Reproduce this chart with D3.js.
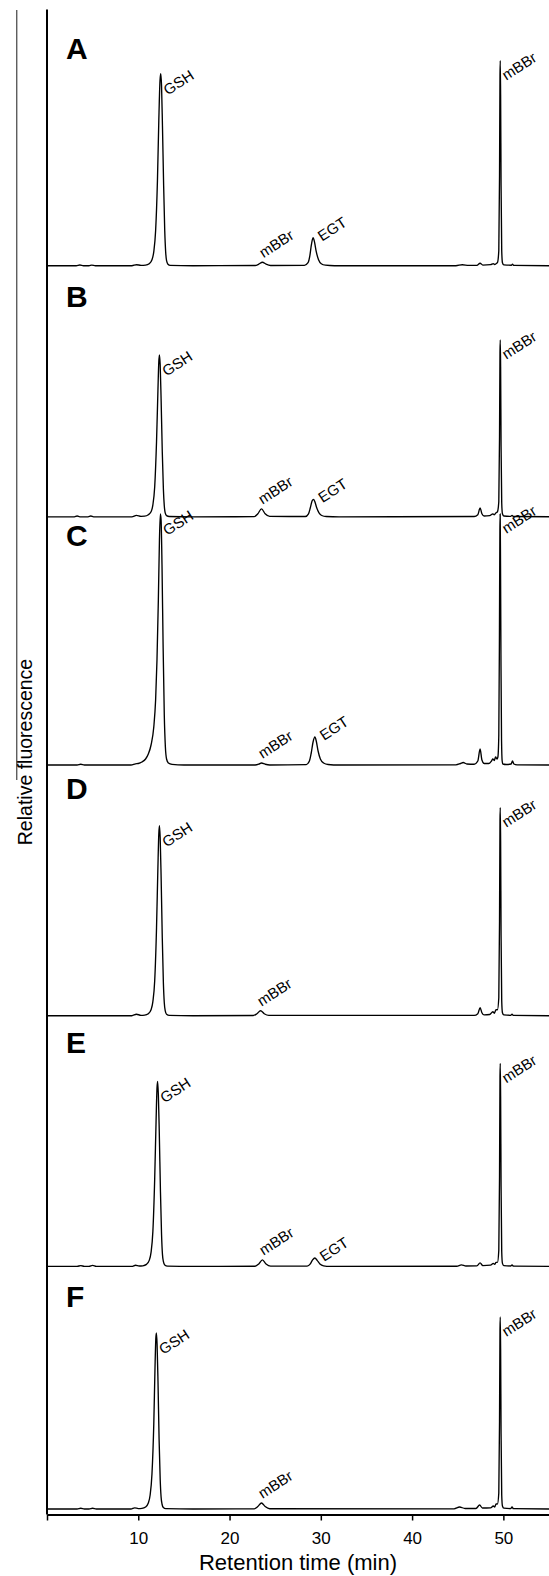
<!DOCTYPE html>
<html><head><meta charset="utf-8">
<script src="https://cdn.jsdelivr.net/npm/d3@7"></script>
<style>body{margin:0;background:#fff}svg{display:block}</style>
</head><body><svg id="c" width="549" height="1576"></svg>
<script>
// ---------------- data ----------------
const panelNames = ["A","B","C","D","E","F"];
const xTicks = [0,10,20,30,40,50];
const xTickLabels = ["","10","20","30","40","50"];
const xTitle = "Retention time (min)";
const yTitle = "Relative fluorescence";

// chromatogram traces: [retention time (min), relative fluorescence]
const traceA = [
[0,0],[3.2,0],[3.6,0.7],[4.0,0],[4.6,0],[4.9,0.6],[5.3,0],[9.3,0],[9.8,1.0],[10.3,0.4],
[10.8,0.6],[11.2,2],[11.5,6],[11.7,14],[11.9,35],[12.1,85],[12.25,145],[12.38,185],[12.46,192],[12.55,180],[12.65,140],[12.78,80],[12.9,35],[13.0,14],[13.1,5],[13.25,1.5],[13.5,0.3],
[16,0],[22.8,0.2],[23.2,1.5],[23.6,3.5],[24.0,1.5],[24.5,0.2],
[28.2,0.3],[28.6,3],[28.8,10],[28.95,20],[29.15,28],[29.3,24],[29.5,14],[29.75,6],[30.05,2],[30.5,0.5],[31.5,0],
[44.8,0],[45.5,1],[46.2,0.3],[47.1,0.4],[47.45,2.5],[47.75,0.6],[48.6,1],[48.9,2],[49.05,1.2],[49.2,2],[49.35,3],
[49.5,15],[49.58,90],[49.63,190],[49.66,205],[49.7,170],[49.75,80],[49.82,15],[49.9,3],[50.05,0.8],[50.9,0.5],[51.0,1.5],[51.15,0.3],[55,0]
];
const traceB = [
[0,0],[3.0,0],[3.3,0.8],[3.6,0],[4.5,0],[4.8,0.8],[5.1,0],[9.3,0],[9.8,1.5],[10.3,0.5],
[10.7,0.6],[11.1,2],[11.4,5],[11.6,12],[11.8,30],[12.0,75],[12.15,125],[12.25,155],[12.32,162],[12.4,152],[12.5,118],[12.63,65],[12.75,28],[12.85,11],[12.95,4],[13.1,1.2],[13.4,0.3],
[16,0],[22.7,0.2],[23.1,3],[23.5,8],[23.9,3],[24.4,0.4],
[28.3,0.3],[28.65,3],[28.85,9],[29.05,16],[29.2,17.5],[29.35,15],[29.55,9],[29.8,4],[30.1,1.3],[30.6,0.3],[32,0],
[46.8,0.3],[47.2,2],[47.45,9],[47.65,3],[47.9,0.8],[48.5,1.2],[48.85,3],[49.0,2],[49.2,4],[49.35,5],
[49.5,15],[49.58,80],[49.63,165],[49.66,177],[49.7,150],[49.75,70],[49.82,14],[49.9,3],[50.05,0.8],[50.8,0.4],[50.95,1.5],[51.1,0.3],[55,0]
];
const traceC = [
[0,0],[3.3,0],[3.7,0.8],[4.1,0],[9.2,0],[9.7,1.2],[10.0,1.5],[10.4,3],[10.8,6],[11.1,11],[11.4,20],[11.7,38],[11.9,65],[12.05,105],[12.2,165],[12.32,225],[12.42,251],[12.5,245],[12.6,200],[12.72,120],[12.85,50],[12.97,18],[13.1,6],[13.3,2],[13.7,0.6],[15,0],
[22.8,0],[23.2,0.8],[23.5,2],[23.9,0.8],[24.4,0],
[28.4,0.4],[28.75,4],[28.95,12],[29.15,23],[29.35,28],[29.5,24],[29.7,14],[29.95,6],[30.3,2],[30.8,0.5],[32,0],
[44.8,0.2],[45.3,1.5],[45.6,2.5],[46.0,1],[46.8,0.8],[47.2,4],[47.45,16],[47.65,5],[47.9,1.5],[48.4,1.5],[48.7,4],[48.85,6],[49.0,4.5],[49.15,8],[49.3,6],[49.4,8],
[49.5,30],[49.57,130],[49.62,235],[49.65,251],[49.69,200],[49.74,100],[49.8,25],[49.87,4],[49.95,1],[50.3,0.5],[50.85,1],[51.0,4],[51.15,1],[51.5,0.2],[55,0]
];
const traceD = [
[0,0],[9.3,0],[9.8,1.5],[10.3,0.4],
[10.7,0.6],[11.1,2],[11.4,6],[11.6,14],[11.8,35],[12.0,88],[12.15,148],[12.25,182],[12.32,190],[12.4,178],[12.5,140],[12.63,78],[12.75,33],[12.85,13],[12.95,5],[13.1,1.4],[13.4,0.3],
[16,0],[22.6,0.2],[23.0,2],[23.4,5],[23.8,2],[24.3,0.3],
[46.8,0.3],[47.2,2],[47.45,8],[47.65,3],[47.9,0.8],[48.5,1.2],[48.85,4],[49.0,2.5],[49.2,6],[49.35,6],
[49.5,18],[49.58,95],[49.63,195],[49.66,208],[49.7,175],[49.75,80],[49.82,15],[49.9,3],[50.05,0.8],[50.8,0.4],[50.95,1.5],[51.1,0.3],[55,0]
];
const traceE = [
[0,0],[3.3,0],[3.7,0.8],[4.1,0],[4.6,0],[5.0,1],[5.4,0],[9.3,0],[9.7,1.2],[10.1,0.4],
[10.5,0.6],[10.9,2],[11.2,6],[11.4,14],[11.6,35],[11.8,88],[11.95,145],[12.05,178],[12.12,185],[12.2,172],[12.3,135],[12.43,75],[12.55,32],[12.65,12],[12.75,5],[12.9,1.4],[13.2,0.3],
[16,0],[22.8,0.2],[23.2,2.5],[23.6,6.6],[24.0,2.5],[24.5,0.3],
[28.5,0.3],[28.85,2.5],[29.1,6.5],[29.35,8.4],[29.6,6],[29.9,2.5],[30.3,0.6],[31,0],
[44.9,0.2],[45.4,1.5],[45.9,0.4],[47.1,0.5],[47.45,3.5],[47.75,0.8],[48.6,1.2],[48.9,3],[49.05,2],[49.2,4],[49.35,4],
[49.5,16],[49.58,90],[49.63,190],[49.66,203],[49.7,170],[49.75,80],[49.82,15],[49.9,3],[50.05,0.8],[50.8,0.4],[50.95,1.5],[51.1,0.3],[55,0]
];
const traceF = [
[0,0],[3.3,0],[3.7,0.8],[4.1,0],[4.6,0],[5.0,0.8],[5.4,0],[9.2,0],[9.6,1.2],[10.0,0.4],
[10.4,0.6],[10.8,2],[11.1,6],[11.3,14],[11.5,35],[11.7,85],[11.83,140],[11.92,170],[11.98,176],[12.06,165],[12.16,128],[12.28,70],[12.4,30],[12.5,12],[12.6,5],[12.75,1.4],[13.0,0.3],
[16,0],[22.7,0.2],[23.1,2.5],[23.5,6],[23.9,2.5],[24.4,0.3],
[44.6,0.2],[45.2,2],[45.8,0.5],[47.0,0.5],[47.4,4],[47.7,1],[48.6,1.2],[48.9,3],[49.05,2],[49.2,5],[49.35,5],
[49.5,16],[49.58,88],[49.63,180],[49.66,192],[49.7,160],[49.75,75],[49.82,14],[49.9,3],[50.05,0.8],[50.8,0.4],[50.95,2],[51.1,0.3],[55,0]
];
const traces = [traceA, traceB, traceC, traceD, traceE, traceF];

// peak labels: [text, retention time, peak height, kind]
const labelsA = [["GSH",12.46,192,"gsh"],["mBBr",23.6,3.5,"small"],["EGT",29.15,28,"egt"],["mBBr",49.66,205,"tall"]];
const labelsB = [["GSH",12.32,162,"gsh"],["mBBr",23.5,8,"small"],["EGT",29.2,17.5,"egt"],["mBBr",49.66,177,"tall"]];
const labelsC = [["GSH",12.42,251,"gsh"],["mBBr",23.5,2,"small"],["EGT",29.35,28,"egt"],["mBBr",49.65,251,"tall"]];
const labelsD = [["GSH",12.32,190,"gsh"],["mBBr",23.4,5,"small"],["mBBr",49.66,208,"tall"]];
const labelsE = [["GSH",12.12,185,"gsh"],["mBBr",23.6,6.6,"small"],["EGT",29.35,8.4,"egt"],["mBBr",49.66,203,"tall"]];
const labelsF = [["GSH",11.98,176,"gsh"],["mBBr",23.5,6,"small"],["mBBr",49.66,192,"tall"]];
const panelLabels = [labelsA, labelsB, labelsC, labelsD, labelsE, labelsF];

// ---------------- layout ----------------
const W = 549, H = 1576;
const FONT = "Liberation Sans, Arial, Helvetica, sans-serif";
const axisX = 47, axisTop = 9.5, axisY = 1514.5;
const baselines = [265.7, 516.8, 765, 1015.7, 1266.4, 1509];
const letterY = [59, 307, 546, 799, 1053, 1307];
const panelH = 250;
const kindOffset = {gsh:{dx:7, dy:22}, tall:{dx:6, dy:20}, small:{dx:1, dy:-4}, egt:{dx:9, dy:4}};

const svg = d3.select("#c");
svg.append("rect").attr("width",W).attr("height",H).attr("fill","#fff");

const x = d3.scaleLinear().domain([0,55]).range([axisX, W]);

// thin left rule
svg.append("line").attr("x1",16.8).attr("x2",16.8).attr("y1",10).attr("y2",780)
  .attr("stroke","#000").attr("stroke-width",0.9);

// panels
panelNames.forEach((name,i)=>{
  const b = baselines[i];
  const y = d3.scaleLinear().domain([0,panelH]).range([b, b-panelH]);
  const line = d3.line().x(d=>x(d[0])).y(d=>y(d[1])).curve(d3.curveMonotoneX);
  svg.append("path").datum(traces[i]).attr("d",line)
    .attr("fill","none").attr("stroke","#000").attr("stroke-width",1.35)
    .attr("stroke-linejoin","round");
  svg.append("text").attr("x",66).attr("y",letterY[i]).text(name)
    .attr("font-family",FONT).attr("font-weight","bold")
    .attr("font-size",30).attr("fill","#000");
  panelLabels[i].forEach(l=>{
    const o = kindOffset[l[3]];
    const lx = x(l[1]) + o.dx, ly = y(l[2]) + o.dy;
    svg.append("text").attr("transform",`translate(${lx},${ly}) rotate(-33)`)
      .text(l[0]).attr("font-family",FONT)
      .attr("font-size",15).attr("fill","#000");
  });
});

// y axis line
svg.append("line").attr("x1",axisX).attr("x2",axisX).attr("y1",axisTop).attr("y2",axisY)
  .attr("stroke","#000").attr("stroke-width",2);

// x axis
const xAxis = d3.axisBottom(x).tickValues(xTicks).tickSize(6).tickSizeOuter(0)
  .tickFormat((d,i)=>xTickLabels[i]);
const gx = svg.append("g").attr("transform",`translate(0,${axisY})`).call(xAxis);
gx.select(".domain").attr("stroke","#000").attr("stroke-width",2);
gx.selectAll(".tick line").attr("stroke","#000").attr("stroke-width",1.5);
gx.selectAll(".tick text").attr("font-family",FONT)
  .attr("font-size",17).attr("fill","#000").attr("dy","0").attr("y",29.5);

svg.append("text").attr("x",(axisX+W)/2).attr("y",1570).attr("text-anchor","middle")
  .text(xTitle).attr("font-family",FONT).attr("font-size",22).attr("fill","#000");

svg.append("text").attr("transform","translate(32,752) rotate(-90)").attr("text-anchor","middle")
  .text(yTitle).attr("font-family",FONT).attr("font-size",19.5).attr("fill","#000");
</script></body></html>
